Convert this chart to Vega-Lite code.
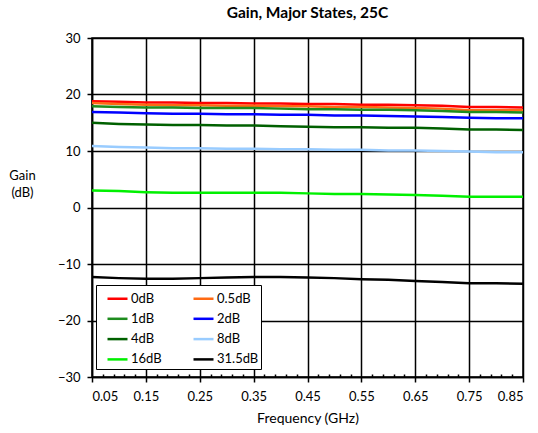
{
  "$schema": "https://vega.github.io/schema/vega-lite/v6.json",
  "width": 431,
  "height": 339,
  "autosize": "none",
  "padding": {"left": 92, "top": 38, "right": 15, "bottom": 56},
  "background": "white",
  "config": {
    "font": "Lato",
    "view": {"stroke": "black", "strokeWidth": 1.5},
    "axis": {"labelFont": "Lato", "titleFont": "Lato", "labelFontSize": 13, "titleFontSize": 13, "labelColor": "black", "titleColor": "black", "titleFontWeight": "normal", "domainColor": "black", "tickColor": "black", "gridColor": "black", "gridOpacity": 1, "gridWidth": 1.5, "domainWidth": 1.5, "tickWidth": 1.5}
  },
  "title": {"text": "Gain, Major States, 25C", "fontSize": 15.5, "fontWeight": "bold", "font": "Lato", "offset": 11, "color": "black"},
  "data": {"values": [
    {"f":0.05,"s":"0dB","g":18.8},{"f":0.10,"s":"0dB","g":18.7},{"f":0.15,"s":"0dB","g":18.6},{"f":0.20,"s":"0dB","g":18.6},{"f":0.25,"s":"0dB","g":18.5},{"f":0.30,"s":"0dB","g":18.5},{"f":0.35,"s":"0dB","g":18.4},{"f":0.40,"s":"0dB","g":18.4},{"f":0.45,"s":"0dB","g":18.3},{"f":0.50,"s":"0dB","g":18.3},{"f":0.55,"s":"0dB","g":18.2},{"f":0.60,"s":"0dB","g":18.2},{"f":0.65,"s":"0dB","g":18.1},{"f":0.70,"s":"0dB","g":18.0},{"f":0.75,"s":"0dB","g":17.8},{"f":0.80,"s":"0dB","g":17.8},{"f":0.85,"s":"0dB","g":17.7},
    {"f":0.05,"s":"0.5dB","g":18.5},{"f":0.10,"s":"0.5dB","g":18.3},{"f":0.15,"s":"0.5dB","g":18.2},{"f":0.20,"s":"0.5dB","g":18.1},{"f":0.25,"s":"0.5dB","g":18.1},{"f":0.30,"s":"0.5dB","g":18.0},{"f":0.35,"s":"0.5dB","g":18.0},{"f":0.40,"s":"0.5dB","g":17.9},{"f":0.45,"s":"0.5dB","g":17.9},{"f":0.50,"s":"0.5dB","g":17.8},{"f":0.55,"s":"0.5dB","g":17.8},{"f":0.60,"s":"0.5dB","g":17.7},{"f":0.65,"s":"0.5dB","g":17.6},{"f":0.70,"s":"0.5dB","g":17.5},{"f":0.75,"s":"0.5dB","g":17.2},{"f":0.80,"s":"0.5dB","g":17.2},{"f":0.85,"s":"0.5dB","g":17.2},
    {"f":0.05,"s":"1dB","g":17.9},{"f":0.10,"s":"1dB","g":17.8},{"f":0.15,"s":"1dB","g":17.7},{"f":0.20,"s":"1dB","g":17.7},{"f":0.25,"s":"1dB","g":17.6},{"f":0.30,"s":"1dB","g":17.6},{"f":0.35,"s":"1dB","g":17.6},{"f":0.40,"s":"1dB","g":17.5},{"f":0.45,"s":"1dB","g":17.4},{"f":0.50,"s":"1dB","g":17.4},{"f":0.55,"s":"1dB","g":17.3},{"f":0.60,"s":"1dB","g":17.3},{"f":0.65,"s":"1dB","g":17.2},{"f":0.70,"s":"1dB","g":17.1},{"f":0.75,"s":"1dB","g":16.9},{"f":0.80,"s":"1dB","g":16.9},{"f":0.85,"s":"1dB","g":16.8},
    {"f":0.05,"s":"2dB","g":16.9},{"f":0.10,"s":"2dB","g":16.8},{"f":0.15,"s":"2dB","g":16.7},{"f":0.20,"s":"2dB","g":16.6},{"f":0.25,"s":"2dB","g":16.6},{"f":0.30,"s":"2dB","g":16.5},{"f":0.35,"s":"2dB","g":16.5},{"f":0.40,"s":"2dB","g":16.4},{"f":0.45,"s":"2dB","g":16.4},{"f":0.50,"s":"2dB","g":16.3},{"f":0.55,"s":"2dB","g":16.3},{"f":0.60,"s":"2dB","g":16.2},{"f":0.65,"s":"2dB","g":16.1},{"f":0.70,"s":"2dB","g":16.0},{"f":0.75,"s":"2dB","g":15.9},{"f":0.80,"s":"2dB","g":15.8},{"f":0.85,"s":"2dB","g":15.8},
    {"f":0.05,"s":"4dB","g":15.0},{"f":0.10,"s":"4dB","g":14.8},{"f":0.15,"s":"4dB","g":14.7},{"f":0.20,"s":"4dB","g":14.6},{"f":0.25,"s":"4dB","g":14.6},{"f":0.30,"s":"4dB","g":14.5},{"f":0.35,"s":"4dB","g":14.5},{"f":0.40,"s":"4dB","g":14.4},{"f":0.45,"s":"4dB","g":14.3},{"f":0.50,"s":"4dB","g":14.2},{"f":0.55,"s":"4dB","g":14.2},{"f":0.60,"s":"4dB","g":14.1},{"f":0.65,"s":"4dB","g":14.1},{"f":0.70,"s":"4dB","g":14.0},{"f":0.75,"s":"4dB","g":13.8},{"f":0.80,"s":"4dB","g":13.8},{"f":0.85,"s":"4dB","g":13.7},
    {"f":0.05,"s":"8dB","g":10.9},{"f":0.10,"s":"8dB","g":10.7},{"f":0.15,"s":"8dB","g":10.6},{"f":0.20,"s":"8dB","g":10.5},{"f":0.25,"s":"8dB","g":10.5},{"f":0.30,"s":"8dB","g":10.4},{"f":0.35,"s":"8dB","g":10.4},{"f":0.40,"s":"8dB","g":10.3},{"f":0.45,"s":"8dB","g":10.3},{"f":0.50,"s":"8dB","g":10.2},{"f":0.55,"s":"8dB","g":10.2},{"f":0.60,"s":"8dB","g":10.1},{"f":0.65,"s":"8dB","g":10.1},{"f":0.70,"s":"8dB","g":10.0},{"f":0.75,"s":"8dB","g":9.9},{"f":0.80,"s":"8dB","g":9.8},{"f":0.85,"s":"8dB","g":9.8},
    {"f":0.05,"s":"16dB","g":3.0},{"f":0.10,"s":"16dB","g":2.9},{"f":0.15,"s":"16dB","g":2.7},{"f":0.20,"s":"16dB","g":2.6},{"f":0.25,"s":"16dB","g":2.6},{"f":0.30,"s":"16dB","g":2.6},{"f":0.35,"s":"16dB","g":2.6},{"f":0.40,"s":"16dB","g":2.6},{"f":0.45,"s":"16dB","g":2.5},{"f":0.50,"s":"16dB","g":2.4},{"f":0.55,"s":"16dB","g":2.4},{"f":0.60,"s":"16dB","g":2.3},{"f":0.65,"s":"16dB","g":2.2},{"f":0.70,"s":"16dB","g":2.1},{"f":0.75,"s":"16dB","g":1.9},{"f":0.80,"s":"16dB","g":1.9},{"f":0.85,"s":"16dB","g":1.9},
    {"f":0.05,"s":"31.5dB","g":-12.3},{"f":0.10,"s":"31.5dB","g":-12.5},{"f":0.15,"s":"31.5dB","g":-12.6},{"f":0.20,"s":"31.5dB","g":-12.6},{"f":0.25,"s":"31.5dB","g":-12.5},{"f":0.30,"s":"31.5dB","g":-12.4},{"f":0.35,"s":"31.5dB","g":-12.3},{"f":0.40,"s":"31.5dB","g":-12.3},{"f":0.45,"s":"31.5dB","g":-12.4},{"f":0.50,"s":"31.5dB","g":-12.5},{"f":0.55,"s":"31.5dB","g":-12.7},{"f":0.60,"s":"31.5dB","g":-12.8},{"f":0.65,"s":"31.5dB","g":-13.0},{"f":0.70,"s":"31.5dB","g":-13.2},{"f":0.75,"s":"31.5dB","g":-13.4},{"f":0.80,"s":"31.5dB","g":-13.4},{"f":0.85,"s":"31.5dB","g":-13.5}
  ]},
  "mark": {"type": "line", "strokeWidth": 2.5, "clip": true},
  "encoding": {
    "x": {"field": "f", "type": "quantitative",
      "scale": {"domain": [0.05, 0.85], "nice": false, "zero": false},
      "axis": {
        "title": "Frequency (GHz)", "titleFontSize": 14, "titlePadding": 8,
        "values": [0.05,0.07,0.09,0.11,0.13,0.15,0.17,0.19,0.21,0.23,0.25,0.27,0.29,0.31,0.33,0.35,0.37,0.39,0.41,0.43,0.45,0.47,0.49,0.51,0.53,0.55,0.57,0.59,0.61,0.63,0.65,0.67,0.69,0.71,0.73,0.75,0.77,0.79,0.81,0.83,0.85],
        "labelOverlap": false,
        "labelExpr": "abs((datum.value - 0.05) / 0.1 - round((datum.value - 0.05) / 0.1)) < 0.01 ? format(datum.value, '.2f') : ''",
        "labelPadding": 8,
        "tickSize": {"condition": {"test": "abs((datum.value - 0.05) / 0.1 - round((datum.value - 0.05) / 0.1)) < 0.01", "value": 5}, "value": -3},
        "gridOpacity": {"condition": {"test": "abs((datum.value - 0.05) / 0.1 - round((datum.value - 0.05) / 0.1)) < 0.01", "value": 1}, "value": 0}
      }},
    "y": {"field": "g", "type": "quantitative",
      "scale": {"domain": [-30, 30], "nice": false},
      "axis": {
        "values": [-30,-20,-10,0,10,20,30],
        "tickSize": 5, "labelPadding": 7,
        "title": ["Gain", "(dB)"], "titleAngle": 0, "titleAlign": "center", "titleBaseline": "alphabetic",
        "titleX": -70, "titleY": 141, "titleLineHeight": 17, "titleFontSize": 13
      }},
    "color": {"field": "s", "type": "nominal",
      "scale": {"domain": ["0dB","0.5dB","1dB","2dB","4dB","8dB","16dB","31.5dB"],
                "range": ["#FF0000","#FF6A13","#1E8C1E","#0000FF","#006000","#99CCFF","#00F000","#000000"]},
      "legend": {
        "title": null, "orient": "none", "legendX": 4, "legendY": 247, "columns": 2, "direction": "horizontal",
        "symbolType": "stroke", "symbolSize": 400, "symbolStrokeWidth": 2.5,
        "labelFontSize": 13, "labelFont": "Lato", "labelColor": "black", "labelOffset": 2,
        "columnPadding": 22, "rowPadding": 1.3,
        "strokeColor": "black", "fillColor": "white", "padding": 2,
        "symbolOffset": 8
      }}
  }
}
